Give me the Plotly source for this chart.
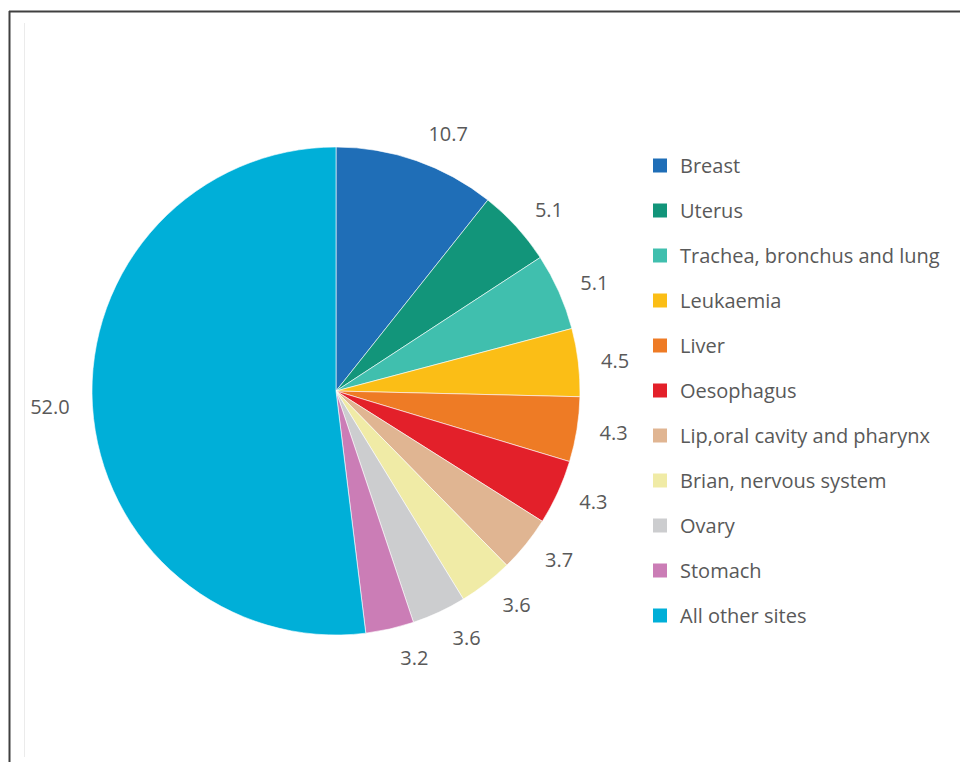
import plotly.graph_objects as go

labels = ["Breast", "Uterus", "Trachea, bronchus and lung", "Leukaemia", "Liver",
          "Oesophagus", "Lip,oral cavity and pharynx", "Brian, nervous system",
          "Ovary", "Stomach", "All other sites"]
values = [10.7, 5.1, 5.1, 4.5, 4.3, 4.3, 3.7, 3.6, 3.6, 3.2, 52.0]
colors = ["#1F6EB7", "#12957A", "#40BFAE", "#FBBE16", "#EE7B25", "#E3202A",
          "#E0B592", "#F0EBA6", "#CCCDCF", "#CB7DB6", "#00AFD8"]

OFF = 8  # browser body margin
W, H = 968 - OFF, 762 - OFF
FONT = "Open Sans, Lato, sans-serif"
TXT = "#595959"


def px(x):
    return (x - OFF) / W


def py(y):
    return 1 - (y - OFF) / H


def dom(cx, cy, r):
    return dict(x=[px(cx - r), px(cx + r)], y=[py(cy + r), py(cy - r)])


fig = go.Figure()
cx, cy, r = 336, 391, 244

# invisible rings only used to place the value labels a bit further out
# (the Stomach label is placed by its own ring so that it is not pushed aside)
split = "Stomach"
for show in (lambda lab: lab != split, lambda lab: lab == split):
    fig.add_trace(go.Pie(
        labels=labels, values=values, sort=False, direction="clockwise", rotation=0,
        marker=dict(colors=["rgba(0,0,0,0)"] * len(values), line=dict(width=0)),
        textposition=["outside" if show(lab) else "none" for lab in labels],
        texttemplate="%{value:.1f}",
        textfont=dict(size=20, color=TXT, family=FONT),
        domain=dom(cx, cy, r + 16), showlegend=False, hoverinfo="skip",
    ))

fig.add_trace(go.Pie(
    labels=labels, values=values, sort=False, direction="clockwise", rotation=0,
    marker=dict(colors=colors, line=dict(color="white", width=0.6)),
    textinfo="none",
    domain=dom(cx, cy, r), showlegend=False, hoverinfo="label+value",
))

for lab, col in zip(labels, colors):
    fig.add_trace(go.Scatter(
        x=[None], y=[None], mode="markers", name=lab, legendgroup=lab,
        marker=dict(symbol="square", size=14, color=col),
        showlegend=True,
    ))

shapes = [
    dict(type="line", xref="paper", yref="paper", x0=px(9), x1=1, y0=py(11.5), y1=py(11.5),
         line=dict(color="#404040", width=2)),
    dict(type="line", xref="paper", yref="paper", x0=px(9.5), x1=px(9.5), y0=py(11), y1=0,
         line=dict(color="#404040", width=2)),
    dict(type="line", xref="paper", yref="paper", x0=px(24.5), x1=px(24.5), y0=py(23), y1=py(757),
         line=dict(color="#EBEBEB", width=1)),
]

fig.update_layout(
    width=W, height=H, margin=dict(l=0, r=0, t=0, b=0),
    paper_bgcolor="white", plot_bgcolor="white",
    xaxis=dict(visible=False), yaxis=dict(visible=False),
    shapes=shapes,
    legend=dict(x=px(640), y=py(146), xanchor="left", yanchor="top",
                font=dict(size=20, color=TXT, family=FONT),
                tracegroupgap=16, itemclick=False, itemdoubleclick=False,
                bgcolor="rgba(0,0,0,0)"),
)

fig.write_html("out.html")
